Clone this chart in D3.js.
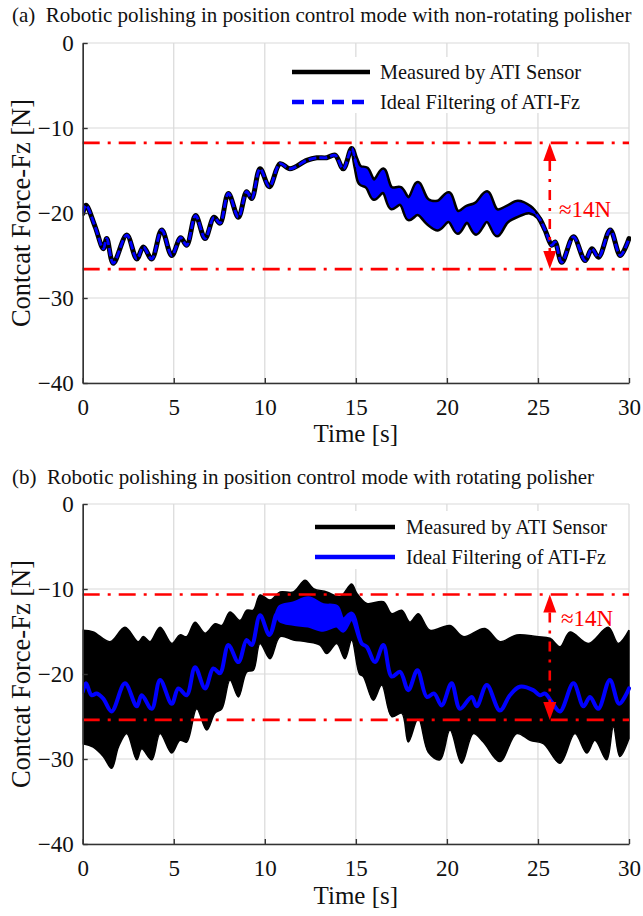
<!DOCTYPE html>
<html><head><meta charset="utf-8">
<script src="https://cdn.jsdelivr.net/npm/d3@7"></script>
<style>
html,body{margin:0;padding:0;background:#fff;}
svg{display:block;font-family:"Liberation Serif","Times New Roman",serif;}
</style></head>
<body><svg id="c" width="643" height="916"></svg>
<script>
const timeTicks = [0,5,10,15,20,25,30];
const forceTicks = [0,-10,-20,-30,-40];
const titles = ["(a)\u00a0\u00a0Robotic polishing in position control mode with non-rotating polisher",
                "(b)\u00a0\u00a0Robotic polishing in position control mode with rotating polisher"];
const legendLabels = ["Measured by ATI Sensor","Ideal Filtering of ATI-Fz"];
const xLabel = "Time [s]";
const yLabel = "Contcat Force-Fz [N]";
const rangeLabel = "\u224814N";

// Panel (a): measured / filtered signal (upper & lower envelope of fast oscillation)
const aTime  = [0,0.18,0.68,1.13,1.32,1.68,2.42,2.97,3.33,3.79,4.34,4.89,5.38,5.71,6.2,6.72,7.21,7.54,8.0,8.55,9.0,9.28,9.74,10.25,10.84,11.38,12.3,12.85,13.4,13.86,14.31,14.77,15.0,
  15.23,15.6,16.0,16.5,16.95,17.45,17.9,18.4,18.95,19.5,20.1,20.6,21.1,21.6,22.2,22.75,23.3,23.9,24.55,25.03,
  25.39,25.76,25.94,26.31,26.95,27.59,27.96,28.33,28.97,29.52,30];
const aUpper = [-20.07,-19.1,-21.6,-24.2,-23.0,-25.9,-22.6,-25.4,-24.0,-25.4,-22.0,-25.0,-22.9,-23.8,-20.3,-23.0,-20.5,-21.2,-17.7,-20.5,-17.5,-18.3,-14.8,-16.9,-14.2,-14.8,-13.8,-13.5,-13.5,-13.2,-14.8,-12.4,-13.6,
  -14.6,-14.8,-16.2,-14.9,-17.1,-17.1,-18.3,-16.5,-18.5,-18.7,-17.7,-19.9,-19.3,-18.9,-17.6,-19.7,-19.3,-18.7,-19.3,-20.5,
  -22.0,-23.8,-23.4,-25.8,-22.8,-25.6,-24.2,-25.2,-22.0,-25.0,-23.0];
const aLower = [-20.07,-19.1,-21.6,-24.2,-23.0,-25.9,-22.6,-25.4,-24.0,-25.4,-22.0,-25.0,-22.9,-23.8,-20.3,-23.0,-20.5,-21.2,-17.7,-20.5,-17.5,-18.3,-14.8,-16.9,-14.2,-14.8,-13.8,-13.5,-13.5,-13.2,-14.8,-12.4,-14.6,
  -16.5,-16.9,-18.3,-17.5,-19.4,-18.9,-20.7,-20.1,-21.2,-21.9,-20.9,-22.3,-21.0,-22.4,-20.9,-22.6,-21.0,-20.3,-19.9,-20.5,
  -22.0,-23.8,-23.4,-25.8,-22.8,-25.6,-24.2,-25.2,-22.0,-25.0,-23.0];
const aRangeTop = -11.75, aRangeBottom = -26.6, aArrowTime = 25.65;

// Panel (b): measured envelope (rotating polisher)
const bTopTime = [0,0.58,1.5,2.32,3.05,3.33,3.7,4.25,4.89,5.34,5.71,6.17,6.72,7.27,7.64,8.09,8.64,9.01,9.37,9.74,10.29,10.84,11.57,12.21,12.67,13.4,14.13,14.77,15.05,15.6,16.51,16.97,17.52,17.97,18.43,19.07,20.17,20.9,22.09,22.91,23.83,24.93,25.66,26.21,26.76,27.77,28.86,29.41,30];
const bTop     = [-14.85,-15.05,-16.2,-14.5,-16.2,-15.6,-16.2,-14.5,-16.4,-15.4,-15.6,-13.9,-15.2,-14.1,-14.3,-12.7,-13.7,-12.5,-12.5,-10.7,-11.3,-10.35,-10.35,-8.98,-9.96,-10.35,-10.9,-9.4,-10.5,-11.7,-11.5,-12.9,-12.5,-13.9,-12.9,-14.85,-14.3,-15.6,-14.65,-16.2,-15.4,-15.6,-15.8,-16.8,-15.05,-16.4,-14.5,-16.4,-14.85];
const bBotTime = [0,0.58,1.13,1.59,1.96,2.42,2.97,3.24,3.79,4.25,4.89,5.34,5.71,6.26,6.81,7.27,7.64,8.09,8.55,9.01,9.37,9.74,10.29,10.84,11.57,12.3,13.03,13.4,13.95,14.4,14.77,15.2,15.41,15.96,16.42,16.97,17.52,17.88,18.43,18.98,19.62,20.17,20.81,21.45,22.0,22.91,23.83,24.57,25.3,26.21,27.03,27.68,28.13,28.77,29.14,29.5,30];
const bBot     = [-28.2,-28.6,-29.7,-31.1,-28.6,-27.0,-30.1,-28.8,-30.1,-27.0,-29.3,-27.8,-28.0,-24.1,-26.6,-24.6,-24.1,-20.7,-22.7,-19.75,-19.55,-16.4,-18.2,-15.6,-16.0,-16.2,-16.6,-17.6,-16.4,-18.2,-16.0,-20.0,-20.3,-23.1,-21.3,-25.0,-24.6,-28.0,-25.2,-29.2,-30.1,-26.6,-30.5,-27.0,-28.0,-30.3,-27.0,-27.8,-28.2,-30.5,-27.0,-29.3,-27.8,-30.1,-26.2,-29.7,-27.6];
// Panel (b): ideal filtering (upper/lower where a fast ripple remains)
const bFiltTime  = [0,0.18,0.49,0.77,1.13,1.59,2.32,2.97,3.24,3.79,4.25,4.89,5.25,5.71,6.17,6.72,7.17,7.54,8.0,8.55,9.0,9.28,9.74,10.25,10.66,10.84,11.57,12.39,13.2,13.95,14.3,14.77,15.32,15.6,16.05,16.51,16.97,17.43,17.88,18.38,18.9,19.3,19.71,20.26,20.72,21.36,21.64,22.19,22.91,23.46,24.0,24.74,25.1,25.39,25.76,26.21,26.95,27.5,27.86,28.31,28.95,29.46,30];
const bFiltUpper = [-22.1,-21.1,-22.5,-22.3,-22.9,-24.4,-21.1,-23.8,-22.5,-24.1,-20.7,-23.5,-21.7,-22.5,-19.2,-21.7,-19.35,-19.9,-16.6,-18.6,-16.0,-16.6,-13.1,-15.4,-12.9,-12.1,-11.7,-11.1,-11.9,-12.1,-13.6,-12.9,-16.4,-16.8,-18.6,-16.6,-20.3,-19.75,-21.9,-19.55,-22.7,-22.3,-23.7,-21.1,-24.1,-22.7,-23.8,-21.3,-24.3,-22.5,-21.5,-21.9,-22.5,-22.3,-23.3,-24.4,-21.1,-23.8,-22.7,-24.1,-20.7,-23.5,-21.7];
const bFiltLower = [-22.1,-21.1,-22.5,-22.3,-22.9,-24.4,-21.1,-23.8,-22.5,-24.1,-20.7,-23.5,-21.7,-22.5,-19.2,-21.7,-19.35,-19.9,-16.6,-18.6,-16.0,-16.6,-13.1,-15.4,-12.9,-13.7,-14.1,-14.3,-14.8,-14.3,-14.9,-13.5,-16.4,-16.8,-18.6,-16.6,-20.3,-19.75,-21.9,-19.55,-22.7,-22.3,-23.7,-21.1,-24.1,-22.7,-23.8,-21.3,-24.3,-22.5,-21.5,-21.9,-22.5,-22.3,-23.3,-24.4,-21.1,-23.8,-22.7,-24.1,-20.7,-23.5,-21.7];
const bRangeTop = -10.65, bRangeBottom = -25.4, bArrowTime = 25.65;

const svg = d3.select("#c");
const x = d3.scaleLinear().domain([0,30]).range([82.7,629]);
const RED = "#ff0000";
const FONT = "Liberation Serif";

function panel(cfg){
  const y = d3.scaleLinear().domain([-40,0]).range([cfg.bottom,cfg.top]);
  const g = svg.append("g");
  const clipId = "clip" + cfg.id;
  svg.append("defs").append("clipPath").attr("id",clipId).append("rect")
    .attr("x",x(0)).attr("y",y(0)-10).attr("width",x(30)-x(0)+2).attr("height",y(-40)-y(0)+10);
  // grid
  g.append("g").selectAll("line").data(timeTicks).join("line")
    .attr("x1",d=>x(d)).attr("x2",d=>x(d)).attr("y1",y(-40)).attr("y2",y(0))
    .attr("stroke","#d9d9d9").attr("stroke-width",1.2);
  g.append("g").selectAll("line").data(forceTicks).join("line")
    .attr("x1",x(0)).attr("x2",x(30)).attr("y1",d=>y(d)).attr("y2",d=>y(d))
    .attr("stroke","#d9d9d9").attr("stroke-width",1.2);
  // title
  svg.append("text").attr("x",12).attr("y",cfg.titleY).attr("font-size",21).attr("font-family",FONT).attr("fill","#111")
    .text(cfg.title);
  cfg.draw(g.append("g").attr("clip-path",`url(#${clipId})`),y);
  // range lines
  const dash = "17,8,3,8";
  [cfg.rTop,cfg.rBot].forEach(v=>{
    g.append("line").attr("x1",x(0)).attr("x2",x(30)).attr("y1",y(v)).attr("y2",y(v))
      .attr("stroke",RED).attr("stroke-width",2.6).attr("stroke-dasharray",dash);
  });
  const ax = x(cfg.arrowT), yt=y(cfg.rTop), yb=y(cfg.rBot), hl=18, hw=6.5;
  g.append("line").attr("x1",ax).attr("x2",ax).attr("y1",yt+hl).attr("y2",yb-hl)
    .attr("stroke",RED).attr("stroke-width",2.6).attr("stroke-dasharray","10,8,3,8");
  g.append("path").attr("d",`M${ax},${yt}L${ax-hw},${yt+hl}L${ax+hw},${yt+hl}Z`).attr("fill",RED);
  g.append("path").attr("d",`M${ax},${yb}L${ax-hw},${yb-hl}L${ax+hw},${yb-hl}Z`).attr("fill",RED);
  g.append("text").attr("x",cfg.labelX).attr("y",cfg.labelY).attr("font-size",23).attr("font-family",FONT).attr("fill",RED).text(rangeLabel);
  // legend
  const L = cfg.legend;
  g.append("rect").attr("x",L.x0).attr("y",L.y0).attr("width",L.w).attr("height",L.h).attr("fill","#fff");
  g.append("line").attr("x1",L.lx1).attr("x2",L.lx2).attr("y1",L.y1).attr("y2",L.y1).attr("stroke","#000").attr("stroke-width",4.5);
  g.append("line").attr("x1",L.lx1).attr("x2",L.lx2).attr("y1",L.y2).attr("y2",L.y2).attr("stroke","#0000ff").attr("stroke-width",4.5)
    .attr("stroke-dasharray",cfg.legendDash);
  legendLabels.forEach((t,i)=>{
    g.append("text").attr("x",L.tx).attr("y",(i?L.y2:L.y1)+7).attr("font-size",20.3).attr("font-family",FONT).attr("fill","#111").text(t);
  });
  // axes
  const xa = g.append("g").attr("transform",`translate(0,${y(-40)})`)
    .call(d3.axisBottom(x).tickValues(timeTicks).tickSizeInner(-5).tickSizeOuter(0).tickPadding(16));
  const ya = g.append("g").attr("transform",`translate(${x(0)},0)`)
    .call(d3.axisLeft(y).tickValues(forceTicks).tickSizeInner(-5).tickSizeOuter(0).tickPadding(9));
  [xa,ya].forEach(a=>{
    a.attr("font-family",FONT);
    a.select(".domain").attr("stroke","#333").attr("stroke-width",1.6);
    a.selectAll(".tick line").attr("stroke","#333").attr("stroke-width",1.4);
    a.selectAll("text").attr("font-size",23).attr("font-family",FONT).attr("fill","#111");
  });
  svg.append("text").attr("x",(x(0)+x(30))/2).attr("y",cfg.xLabelY).attr("text-anchor","middle")
    .attr("font-size",25).attr("font-family",FONT).attr("fill","#111").text(xLabel);
  svg.append("text").attr("transform",`translate(30,${(cfg.top+cfg.bottom)/2}) rotate(-90)`)
    .attr("text-anchor","middle").attr("font-size",26.5).attr("font-family",FONT).attr("fill","#111").text(yLabel);
}

// Panel (a)
panel({id:"a",top:43,bottom:383,titleY:22,title:titles[0],rTop:aRangeTop,rBot:aRangeBottom,arrowT:aArrowTime,
  labelX:559,labelY:217,xLabelY:442,legendDash:"12,8",
  legend:{x0:282,y0:57,w:340,h:56,lx1:292,lx2:370,y1:72,y2:102,tx:380},
  draw:(g,y)=>{
    const idx = d3.range(aTime.length);
    const area = d3.area().x(i=>x(aTime[i])).y0(i=>y(aLower[i])).y1(i=>y(aUpper[i])).curve(d3.curveCatmullRom.alpha(0.5));
    g.append("path").attr("d",area(idx)).attr("fill","#000").attr("stroke","#000").attr("stroke-width",5).attr("stroke-linejoin","round");
    g.append("path").attr("d",area(idx)).attr("fill","#0000ff").attr("stroke","none");
    const mid = d3.line().x(i=>x(aTime[i])).y(i=>y((aLower[i]+aUpper[i])/2)).curve(d3.curveCatmullRom.alpha(0.5));
    g.append("path").attr("d",mid(idx)).attr("fill","none").attr("stroke","#0000ff").attr("stroke-width",2.8)
      .attr("stroke-dasharray","8,3");
  }});

// Panel (b)
panel({id:"b",top:504,bottom:844,titleY:484,title:titles[1],rTop:bRangeTop,rBot:bRangeBottom,arrowT:bArrowTime,
  labelX:561,labelY:626,xLabelY:904,legendDash:null,
  legend:{x0:305,y0:511,w:317,h:58,lx1:315,lx2:395,y1:527,y2:557,tx:406},
  draw:(g,y)=>{
    const curve = d3.curveCatmullRom.alpha(0.5);
    const topPath = d3.line().curve(curve)(bTopTime.map((t,i)=>[x(t),y(bTop[i])]));
    const botPath = d3.line().curve(curve)(bBotTime.map((t,i)=>[x(t),y(bBot[i])]).reverse());
    const d = topPath + "L" + botPath.slice(1) + "Z";
    g.append("path").attr("d",d).attr("fill","#000").attr("stroke","#000").attr("stroke-width",1.5);
    const idx = d3.range(bFiltTime.length);
    const area = d3.area().x(i=>x(bFiltTime[i])).y0(i=>y(bFiltLower[i])).y1(i=>y(bFiltUpper[i])).curve(d3.curveCatmullRom.alpha(0.5));
    g.append("path").attr("d",area(idx)).attr("fill","#0000ff").attr("stroke","#0000ff").attr("stroke-width",4).attr("stroke-linejoin","round");
  }});
</script></body></html>
